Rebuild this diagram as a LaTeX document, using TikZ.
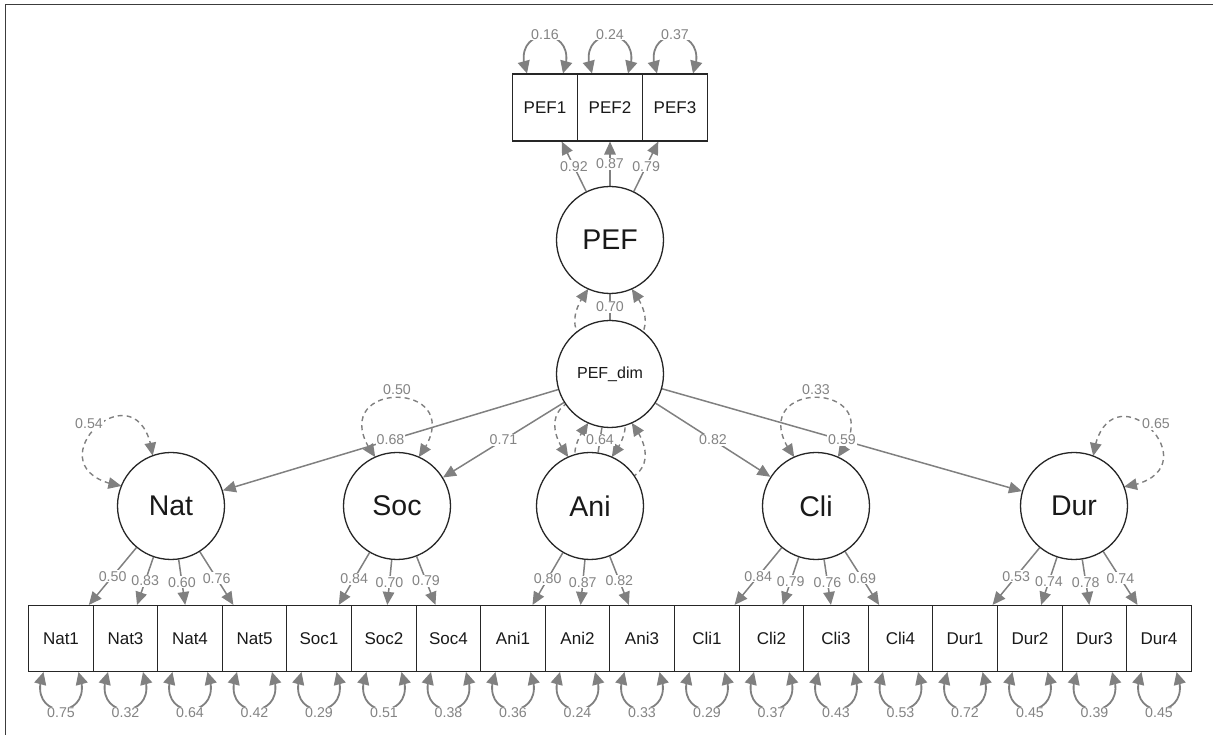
\documentclass[tikz,border=0pt]{standalone}
\usepackage{fontspec}
\setmainfont{Liberation Sans}
\usetikzlibrary{arrows.meta,bending}
\pgfdeclarelayer{edges}
\pgfsetlayers{edges,main}
\definecolor{edgegray}{RGB}{128,128,128}
\definecolor{labgray}{RGB}{132,132,132}
\definecolor{framegray}{RGB}{60,60,60}
\begin{document}
\begin{tikzpicture}[x=1pt,y=1pt,
  latent/.style={circle, draw=black!85, line width=1.3pt, fill=white,
    minimum size=107pt, inner sep=0pt, text=black!90,
    font=\fontsize{28.5}{30}\selectfont},
  manifest/.style={rectangle, draw=black!85, line width=1.1pt, fill=white,
    minimum width=64.6pt, minimum height=66pt, inner sep=0pt, text=black!90,
    font=\fontsize{17}{19}\selectfont},
  tipbig/.tip={Triangle[length=13pt,width=11.5pt]},
  tipsmall/.tip={Triangle[length=12.5pt,width=12pt]},
  regline/.style={draw=edgegray, line width=1.5pt, -tipbig},
  plainline/.style={draw=edgegray, line width=1.5pt},
  loading/.style={draw=edgegray, line width=1.5pt, -tipbig},
  resloop/.style={draw=edgegray, line width=1.8pt, tipsmall-tipsmall},
  latloop/.style={draw=edgegray, line width=1.4pt, dash pattern=on 5pt off 4pt,
    tipbig-tipbig},
  elab/.style={fill=white, inner sep=1pt, text=labgray,
    font=\fontsize{14.2}{15}\selectfont},
]
\useasboundingbox (0,0) rectangle (1213,735);

% frame
\draw[framegray, line width=1.3pt] (5.7,0) -- (5.7,730.7) -- (1213,730.7);

% latent variables
\node[latent] (PEF) at (610,495) {PEF};
\node[latent, font=\fontsize{16}{18}\selectfont] (PEFdim) at (610,361) {PEF\_dim};
\node[latent] (Nat) at (171,229) {Nat};
\node[latent] (Soc) at (397,229) {Soc};
\node[latent] (Ani) at (590,229) {Ani};
\node[latent] (Cli) at (816,229) {Cli};
\node[latent] (Dur) at (1074,229) {Dur};

% indicators of PEF
\node[manifest, minimum width=65pt, minimum height=67pt] (PEF1) at (545,627.5) {PEF1};
\node[manifest, minimum width=65pt, minimum height=67pt] (PEF2) at (610,627.5) {PEF2};
\node[manifest, minimum width=65pt, minimum height=67pt] (PEF3) at (675,627.5) {PEF3};

% indicators of the five dimensions, box edges snapped to whole pixels
\foreach \n [count=\i from 0] in {Nat1,Nat3,Nat4,Nat5,Soc1,Soc2,Soc4,Ani1,Ani2,Ani3,
    Cli1,Cli2,Cli3,Cli4,Dur1,Dur2,Dur3,Dur4}{
  \pgfmathsetmacro{\bl}{round(28+64.6*\i)+0.5}
  \pgfmathsetmacro{\br}{round(28+64.6*(\i+1))+0.5}
  \node[manifest, minimum width={(\br-\bl)*1pt}] (\n) at ({(\bl+\br)/2},96.5) {\n};
}

\begin{pgfonlayer}{edges}
  % residual variances of the latent variables (dashed self loops)
  \foreach \f/\a in {Nat/134, Soc/90, Ani/90, Cli/90, Dur/45, PEF/-90, PEFdim/-90}{
    \pgfmathsetmacro{\al}{\a+24}
    \pgfmathsetmacro{\ar}{\a-24}
    \pgfmathsetmacro{\cl}{\a+37}
    \pgfmathsetmacro{\cr}{\a-37}
    \draw[latloop] ([shift={(\al:53.5)}]\f.center) .. controls +(\cl:100) and +(\cr:100)
      .. ([shift={(\ar:53.5)}]\f.center);
  }
  \node[elab] at ([shift={(135:116)}]Nat.center) {0.54};
  \node[elab] at ([shift={(90:116)}]Soc.center) {0.50};
  \node[elab] at ([shift={(90:116)}]Cli.center) {0.33};
  \node[elab] at ([shift={(45:116)}]Dur.center) {0.65};

  % residual variances of the indicators
  \foreach \n/\v in {PEF1/0.16, PEF2/0.24, PEF3/0.37}{
    \draw[resloop] ([xshift=-18pt]\n.north) .. controls +(-20,50) and +(20,50)
      .. ([xshift=18pt]\n.north);
    \node[elab] at ([yshift=39pt]\n.north) {\v};
  }
  \foreach \n/\v in {Nat1/0.75, Nat3/0.32, Nat4/0.64, Nat5/0.42, Soc1/0.29, Soc2/0.51,
      Soc4/0.38, Ani1/0.36, Ani2/0.24, Ani3/0.33, Cli1/0.29, Cli2/0.37, Cli3/0.43,
      Cli4/0.53, Dur1/0.72, Dur2/0.45, Dur3/0.39, Dur4/0.45}{
    \draw[resloop] ([xshift=-17.5pt]\n.south) .. controls +(-20,-50) and +(20,-50)
      .. ([xshift=17.5pt]\n.south);
    \node[elab] at ([yshift=-41pt]\n.south) {\v};
  }

  % structural paths
  \draw[plainline] (PEF) -- node[elab] {0.70} (PEFdim);
  \draw[regline] (PEFdim) -- node[elab] {0.68} (Nat);
  \draw[regline] (PEFdim) -- node[elab] {0.71} (Soc);
  \draw[plainline] (PEFdim) -- node[elab] {0.64} (Ani);
  \draw[regline] (PEFdim) -- node[elab] {0.82} (Cli);
  \draw[regline] (PEFdim) -- node[elab] {0.59} (Dur);

  % factor loadings
  \draw[loading] (PEF) -- node[elab] {0.92} (PEF1);
  \draw[loading] (PEF) -- node[elab] {0.87} (PEF2);
  \draw[loading] (PEF) -- node[elab] {0.79} (PEF3);
  \foreach \f/\n/\v in {Nat/Nat1/0.50, Nat/Nat3/0.83, Nat/Nat4/0.60, Nat/Nat5/0.76,
      Soc/Soc1/0.84, Soc/Soc2/0.70, Soc/Soc4/0.79,
      Ani/Ani1/0.80, Ani/Ani2/0.87, Ani/Ani3/0.82,
      Cli/Cli1/0.84, Cli/Cli2/0.79, Cli/Cli3/0.76, Cli/Cli4/0.69,
      Dur/Dur1/0.53, Dur/Dur2/0.74, Dur/Dur3/0.78, Dur/Dur4/0.74}
    \draw[loading] (\f) -- node[elab] {\v} (\n);
\end{pgfonlayer}
\end{tikzpicture}
\end{document}
